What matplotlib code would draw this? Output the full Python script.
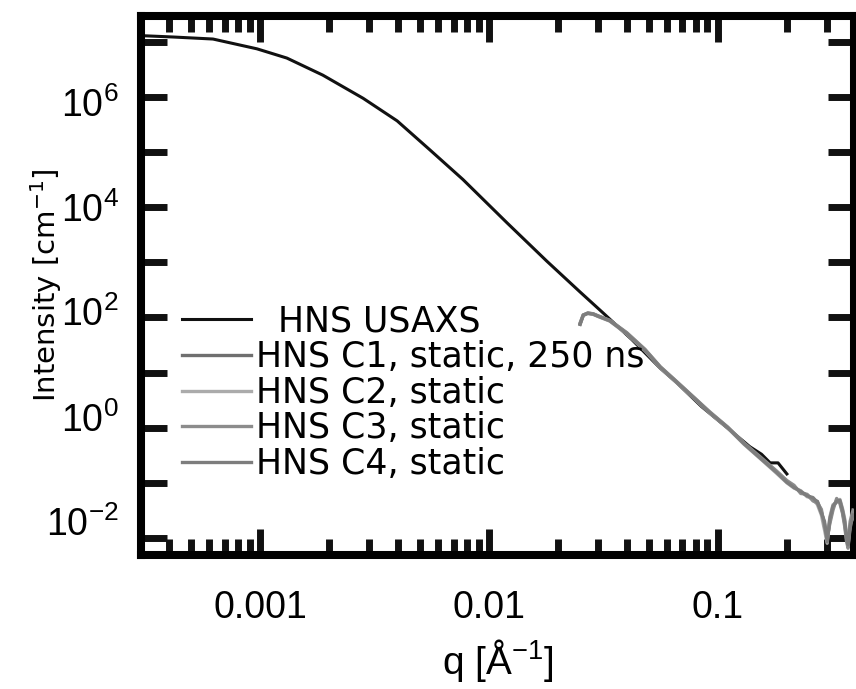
import matplotlib
matplotlib.use("Agg")
import matplotlib.pyplot as plt
from matplotlib.ticker import LogLocator, FuncFormatter, NullLocator, NullFormatter
from matplotlib.transforms import ScaledTranslation

plt.rcParams['font.family'] = ['DejaVu Sans']
plt.rcParams['mathtext.fontset'] = 'dejavusans'
TICKFONT = ['Liberation Sans']

# USAXS curve
q_usaxs = [3.05e-4, 4.17e-4, 6.23e-4, 9.7e-4, 1.31e-3, 1.88e-3, 2.82e-3, 3.97e-3,
           5.52e-3, 7.69e-3, 0.0120, 0.0179, 0.0250, 0.0315, 0.0420, 0.0560,
           0.0662, 0.0850, 0.1127, 0.138, 0.155, 0.169, 0.183, 0.200]
i_usaxs = [1.30e7, 1.23e7, 1.13e7, 7.5e6, 5.1e6, 2.5e6, 9.5e5, 3.7e5,
           1.1e5, 3.2e4, 5.2e3, 1.05e3, 290, 121, 40, 12.0,
           6.5, 2.4, 0.91, 0.45, 0.33, 0.23, 0.23, 0.145]

# SAXS curves C1..C4 on a shared q grid
q_saxs = [0.0250, 0.0258, 0.0270, 0.0285, 0.0300, 0.0337, 0.0400, 0.0480,
          0.0560, 0.0660, 0.0780, 0.0920, 0.1100, 0.1300, 0.1570, 0.1800,
          0.2000, 0.2150, 0.2300, 0.2450, 0.2600, 0.2720, 0.2830, 0.2920,
          0.3000, 0.3080, 0.3180, 0.3300, 0.3410, 0.3500, 0.3580, 0.3640,
          0.3700, 0.3780, 0.3890]
i_c1 = [75, 110, 120, 116, 106, 88, 52, 26,
        12.6, 6.8, 3.6, 1.9, 1.02, 0.52, 0.26, 0.16,
        0.105, 0.085, 0.068, 0.060, 0.050, 0.046, 0.030, 0.018,
        0.009, 0.020, 0.036, 0.048, 0.046, 0.030, 0.018, 0.010,
        0.007, 0.015, 0.028]
i_c2 = [80, 112, 118, 114, 104, 86, 50, 25,
        12.2, 6.6, 3.5, 1.85, 1.00, 0.50, 0.25, 0.15,
        0.100, 0.080, 0.072, 0.056, 0.052, 0.040, 0.026, 0.014,
        0.008, 0.024, 0.040, 0.044, 0.050, 0.034, 0.022, 0.012,
        0.008, 0.018, 0.024]
i_c3 = [78, 108, 121, 117, 107, 89, 53, 26.5,
        12.8, 6.9, 3.65, 1.95, 1.04, 0.53, 0.27, 0.165,
        0.110, 0.090, 0.064, 0.062, 0.047, 0.043, 0.033, 0.016,
        0.010, 0.018, 0.032, 0.052, 0.042, 0.028, 0.016, 0.009,
        0.0065, 0.020, 0.032]
i_c4 = [76, 111, 119, 115, 105, 87, 51, 25.5,
        12.4, 6.7, 3.55, 1.88, 1.01, 0.51, 0.255, 0.155,
        0.102, 0.082, 0.070, 0.058, 0.054, 0.044, 0.028, 0.020,
        0.0085, 0.022, 0.038, 0.046, 0.048, 0.032, 0.020, 0.011,
        0.0075, 0.016, 0.026]

# labelled decades on the intensity axis
y_label_exps = [6, 4, 2, 0, -2]

labels = ['  HNS USAXS', 'HNS C1, static, 250 ns', 'HNS C2, static',
          'HNS C3, static', 'HNS C4, static']
colors = ['#111111', '#6f6f6f', '#ababab', '#8c8c8c', '#7d7d7d']

fig = plt.figure(figsize=(8.56, 6.89), dpi=100)
ax = fig.add_axes([0.1647, 0.1945, 0.8330, 0.7823])

ax.plot(q_usaxs, i_usaxs, color=colors[0], lw=2.2, label=labels[0], zorder=2)
for ys, lab, c in zip([i_c1, i_c2, i_c3, i_c4], labels[1:], colors[1:]):
    ax.plot(q_saxs, ys, color=c, lw=2.4, label=lab, zorder=3)

ax.set_xscale('log')
ax.set_yscale('log')
ax.set_xlim(3.02e-4, 0.393)
ax.set_ylim(4.9e-3, 2.96e7)

ax.xaxis.set_major_locator(LogLocator(base=10, numticks=20))
ax.xaxis.set_minor_locator(LogLocator(base=10, subs=range(2, 10), numticks=20))
ax.xaxis.set_major_formatter(FuncFormatter(lambda v, p: f'{v:g}'))
ax.yaxis.set_major_locator(LogLocator(base=10, numticks=20))
ax.yaxis.set_minor_locator(NullLocator())
ax.yaxis.set_major_formatter(NullFormatter())

# y tick labels drawn as text; the original labels drift slightly off their ticks
drift = {6: -3.6, 4: 0.0, 2: 4.3, 0: 7.9, -2: 12.2}
for e in y_label_exps:
    tr = ax.get_yaxis_transform() + ScaledTranslation(0, drift[e] / 72, fig.dpi_scale_trans)
    ax.text(-0.031, 10.0 ** e, r'$\mathregular{10^{%d}}$' % e, transform=tr,
            ha='right', va='center_baseline', fontsize=27, family=TICKFONT)

for s in ax.spines.values():
    s.set_linewidth(5.8)
ax.tick_params(which='both', direction='in', top=True, right=True, width=5, color='#111111')
ax.tick_params(which='major', length=19)
ax.tick_params(which='minor', length=11.5)
ax.tick_params(axis='x', which='major', labelsize=27, pad=25, labelfontfamily=TICKFONT)

ax.set_xlabel(r'q [Å$^{\mathregular{-1}}$]', fontsize=28, family=TICKFONT, labelpad=8)
ax.set_ylabel(r'Intensity [cm$^{\mathregular{-1}}$]', fontsize=21)
ax.yaxis.set_label_coords(-0.108, 0.5)

ax.legend(loc='lower left', bbox_to_anchor=(0.0575, 0.137), frameon=False,
          fontsize=25, handlelength=2.0, handletextpad=0.12, labelspacing=0.05,
          borderpad=0, borderaxespad=0)

fig.savefig('out.png', dpi=100)
